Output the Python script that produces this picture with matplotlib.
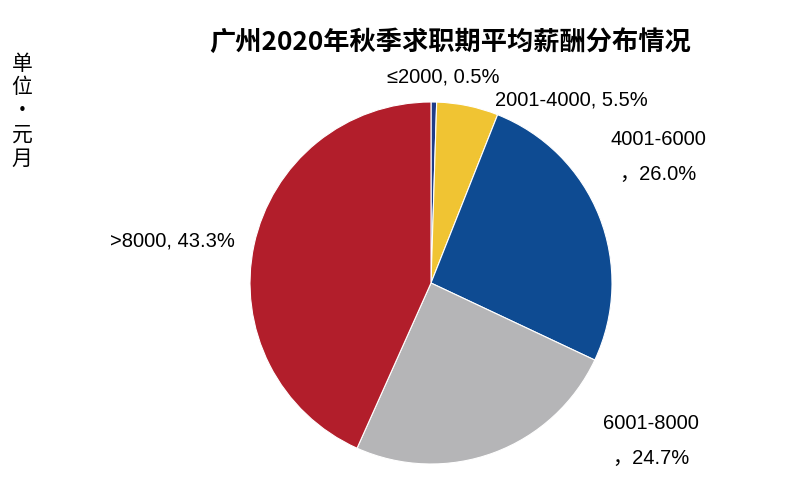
import matplotlib
matplotlib.use("Agg")
import matplotlib.pyplot as plt

plt.rcParams['font.family'] = ['Noto Sans CJK SC', 'DejaVu Sans']

categories = ['≤2000', '2001-4000', '4001-6000', '6001-8000', '>8000']
values = [0.5, 5.5, 26.0, 24.7, 43.3]
label_texts = ['≤2000, 0.5%', '2001-4000, 5.5%', '4001-6000\n，26.0%', '6001-8000\n，24.7%', '>8000, 43.3%']
colors = ['#1F3C88', '#F0C433', '#0E4B92', '#B5B5B7', '#B21E2B']
title = '广州2020年秋季求职期平均薪酬分布情况'
unit = '单\n位\n·\n元\n月'

W, H = 788, 484
fig = plt.figure(figsize=(W / 100, H / 100), dpi=100)
cx, cy, r = 431, 283, 181
ax = fig.add_axes([(cx - r) / W, (H - cy - r) / H, 2 * r / W, 2 * r / H])
ax.pie(values, colors=colors, startangle=90, counterclock=False, radius=1,
       wedgeprops=dict(edgecolor='white', linewidth=0.8))
ax.set_xlim(-1, 1)
ax.set_ylim(-1, 1)
ax.set_aspect('equal')
ax.axis('off')

# label pixel positions (centers)
label_pos = [(443, 77), (571, 100), (658, 157), (651, 441), (172, 241)]
for txt, (px, py) in zip(label_texts, label_pos):
    ax.text((px - cx) / r, (cy - py) / r, txt, ha='center', va='center',
            fontsize=14.5, color='black', linespacing=2.1,
            family=['Liberation Sans', 'Noto Sans CJK SC'])

fig.text(450 / W, 1 - 42 / H, title, ha='center', va='center',
         fontsize=18.9, fontweight='bold')
fig.text(22 / W, 1 - 111 / H, unit, ha='center', va='center',
         fontsize=15, linespacing=1.1)

fig.savefig('out.png', dpi=100)
